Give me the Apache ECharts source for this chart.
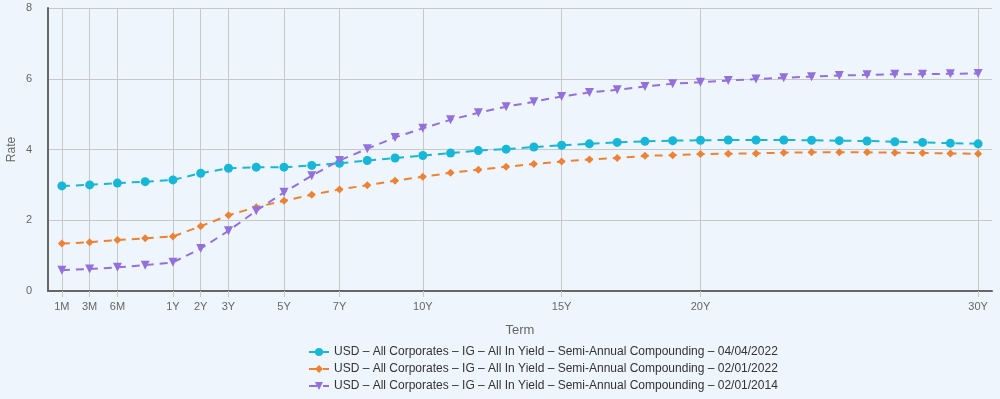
<!DOCTYPE html>
<html>
<head>
<meta charset="utf-8">
<script src="https://cdn.jsdelivr.net/npm/echarts@6/dist/echarts.min.js"></script>
<style>
html,body{margin:0;padding:0;background:#eef5fc;}
#chart{width:1000px;height:399px;}
</style>
</head>
<body>
<div id="chart"></div>
<script>
var categories = ['1M','3M','6M','9M','1Y','2Y','3Y','4Y','5Y','6Y','7Y','8Y','9Y','10Y','11Y','12Y','13Y','14Y','15Y','16Y','17Y','18Y','19Y','20Y','21Y','22Y','23Y','24Y','25Y','26Y','27Y','28Y','29Y','30Y'];
var shownLabels = ['1M','3M','6M','1Y','2Y','3Y','5Y','7Y','10Y','15Y','20Y','30Y'];
var yTicks = [0, 2, 4, 6, 8];

var seriesNames = [
  'USD – All Corporates – IG – All In Yield – Semi-Annual Compounding – 04/04/2022',
  'USD – All Corporates – IG – All In Yield – Semi-Annual Compounding – 02/01/2022',
  'USD – All Corporates – IG – All In Yield – Semi-Annual Compounding – 02/01/2014'
];
var yield20220404 = [2.97,3.00,3.05,3.09,3.14,3.33,3.47,3.50,3.50,3.55,3.61,3.69,3.76,3.83,3.90,3.97,4.01,4.07,4.12,4.16,4.20,4.23,4.25,4.26,4.27,4.27,4.27,4.26,4.25,4.24,4.22,4.20,4.18,4.16];
var yield20220102 = [1.34,1.38,1.44,1.49,1.54,1.83,2.14,2.37,2.55,2.72,2.87,2.99,3.12,3.23,3.34,3.43,3.51,3.59,3.66,3.72,3.76,3.82,3.84,3.87,3.88,3.89,3.91,3.92,3.92,3.92,3.91,3.90,3.89,3.88];
var yield20140102 = [0.59,0.62,0.67,0.73,0.81,1.20,1.70,2.27,2.79,3.26,3.69,4.02,4.34,4.60,4.84,5.04,5.21,5.35,5.50,5.61,5.69,5.78,5.86,5.90,5.95,5.99,6.03,6.06,6.09,6.11,6.13,6.13,6.14,6.15];

var colors = ['#17b7d8', '#ec8236', '#9370db'];
var font = 'Liberation Sans, Arial, sans-serif';

function showIdx(index, value) { return shownLabels.indexOf(categories[index]) >= 0; }

function mk(name, data, color, symbol, size, rotate) {
  return {
    name: name, type: 'line', data: data,
    symbol: symbol, symbolSize: size, symbolRotate: rotate || 0,
    showAllSymbol: true,
    itemStyle: { color: color },
    lineStyle: { color: color, width: 2, type: [8, 6] },
    emphasis: { disabled: true }
  };
}

var chart = echarts.init(document.getElementById('chart'));
chart.setOption({
  backgroundColor: '#eef5fc',
  animation: false,
  color: colors,
  grid: { left: 48, right: 8, top: 8, bottom: 108, containLabel: false, outerBoundsMode: 'none' },
  legend: {
    orient: 'vertical', left: 308, top: 346, padding: 0,
    itemWidth: 20, itemHeight: 10, itemGap: 5,
    textStyle: { fontFamily: font, fontSize: 12, color: '#333' },
    data: seriesNames
  },
  xAxis: {
    type: 'category', data: categories, boundaryGap: true,
    name: 'Term', nameLocation: 'middle', nameGap: 33, nameMoveOverlap: false,
    nameTextStyle: { fontFamily: font, fontSize: 13, color: '#666' },
    axisLine: { lineStyle: { color: '#666', width: 2 } },
    axisTick: { show: true, alignWithLabel: true, interval: showIdx, length: 6, lineStyle: { color: '#c8c8c8' } },
    axisLabel: { interval: showIdx, margin: 10, fontFamily: font, fontSize: 11, color: '#666' },
    splitLine: { show: true, alignWithLabel: true, interval: showIdx, lineStyle: { color: '#c8c8c8', width: 1 } }
  },
  yAxis: {
    type: 'value', min: yTicks[0], max: yTicks[yTicks.length - 1], interval: 2,
    name: 'Rate', nameLocation: 'middle', nameGap: 30, nameMoveOverlap: false,
    nameTextStyle: { fontFamily: font, fontSize: 12, color: '#666' },
    axisLine: { show: true, lineStyle: { color: '#666', width: 2 } },
    axisTick: { show: false },
    axisLabel: { margin: 16, fontFamily: font, fontSize: 11, color: '#666' },
    splitLine: { lineStyle: { color: '#c8c8c8', width: 1 } }
  },
  series: [
    mk(seriesNames[0], yield20220404, colors[0], 'circle', 9),
    mk(seriesNames[1], yield20220102, colors[1], 'diamond', 8),
    mk(seriesNames[2], yield20140102, colors[2], 'triangle', 9, 180)
  ]
});
</script>
</body>
</html>
